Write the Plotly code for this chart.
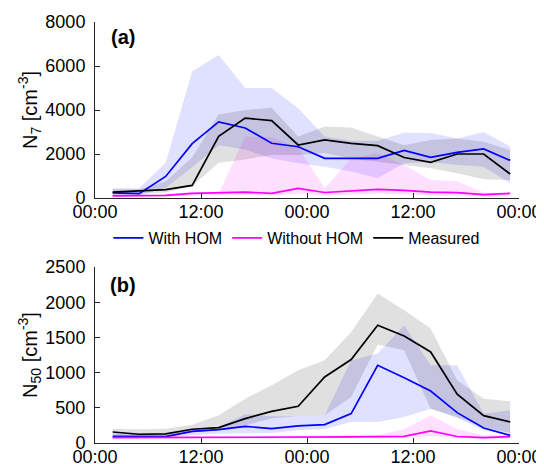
import pandas as pd
import plotly.graph_objects as go
from plotly.subplots import make_subplots

# ---- data ----
HOURS = [2, 5, 8, 11, 14, 17, 20, 23, 26, 29, 32, 35, 38, 41, 44, 47]
START = "2000-01-01"

# Panel (a): N7 [cm^-3]
with_hom_n7 = [230, 200, 980, 2470, 3460, 3180, 2490, 2330, 1800, 1800, 1800, 2160, 1850, 2075, 2230, 1710]
without_hom_n7 = [100, 100, 120, 210, 240, 270, 210, 440, 250, 333, 390, 350, 270, 240, 150, 210]
measured_n7 = [270, 330, 380, 570, 2800, 3630, 3515, 2410, 2640, 2485, 2380, 1840, 1620, 2000, 2000, 1090]

with_hom_n7_hi = [440, 440, 1600, 5750, 6500, 5000, 5000, 4080, 2800, 2600, 2600, 2970, 2950, 2700, 3000, 2350]
with_hom_n7_lo = [130, 130, 450, 1400, 2400, 2200, 1800, 1575, 1420, 1200, 900, 1575, 1650, 1500, 1420, 670]
without_hom_n7_hi = [150, 150, 150, 300, 200, 2800, 2750, 2300, 450, 1800, 2030, 1500, 820, 760, 250, 230]
without_hom_n7_lo = [60, 60, 60, 100, 120, 130, 100, 200, 100, 150, 200, 150, 100, 100, 60, 80]
measured_n7_hi = [400, 400, 750, 1850, 3800, 4000, 4100, 2800, 3250, 3200, 2800, 2400, 2640, 2710, 2560, 2180]
measured_n7_lo = [150, 200, 250, 550, 1600, 1750, 1950, 1950, 2040, 1800, 1650, 1500, 1350, 1120, 850, 820]

# Panel (b): N50 [cm^-3]
with_hom_n50 = [95, 90, 90, 166, 190, 237, 204, 242, 261, 417, 1104, 928, 739, 431, 213, 109]
without_hom_n50 = [76, 76, 76, 80, 80, 85, 85, 86, 86, 86, 90, 95, 171, 92, 75, 90]
measured_n50 = [156, 124, 130, 195, 218, 346, 450, 521, 938, 1185, 1672, 1520, 1293, 692, 389, 298]

with_hom_n50_hi = [133, 133, 133, 195, 228, 408, 379, 379, 393, 1175, 1270, 1672, 1104, 1104, 417, 464]
with_hom_n50_lo = [76, 76, 76, 109, 133, 142, 142, 180, 200, 298, 298, 370, 488, 355, 180, 110]
without_hom_n50_hi = [95, 95, 95, 100, 100, 105, 105, 105, 110, 110, 110, 200, 393, 200, 110, 110]
without_hom_n50_lo = [60, 60, 60, 60, 60, 65, 65, 65, 65, 65, 70, 70, 100, 70, 55, 65]
measured_n50_hi = [204, 195, 204, 261, 393, 630, 820, 1033, 1175, 1577, 2122, 1885, 1625, 890, 630, 592]
measured_n50_lo = [110, 100, 100, 150, 180, 250, 350, 379, 393, 654, 1400, 1317, 488, 370, 228, 140]

SERIES = ["With HOM", "Without HOM", "Measured"]
COLORS = ["#0000ff", "#ff00ff", "#000000"]
FILLS = ["rgba(0,0,255,0.12)", "rgba(255,0,255,0.12)", "rgba(0,0,0,0.12)"]

# ---- figure ----
t0 = pd.Timestamp(START)
times = [t0 + pd.Timedelta(hours=h) for h in HOURS]
band_x = times + times[::-1]

fig = make_subplots(rows=2, cols=1, vertical_spacing=0.0)

panels = [
    (1, [with_hom_n7, without_hom_n7, measured_n7],
     [(with_hom_n7_hi, with_hom_n7_lo), (without_hom_n7_hi, without_hom_n7_lo), (measured_n7_hi, measured_n7_lo)]),
    (2, [with_hom_n50, without_hom_n50, measured_n50],
     [(with_hom_n50_hi, with_hom_n50_lo), (without_hom_n50_hi, without_hom_n50_lo), (measured_n50_hi, measured_n50_lo)]),
]

for row, lines, bands in panels:
    for (hi, lo), fc in zip(bands, FILLS):
        fig.add_trace(go.Scatter(x=band_x, y=list(hi) + list(lo)[::-1], fill="toself",
                                 fillcolor=fc, line=dict(width=0), mode="lines",
                                 showlegend=False, hoverinfo="skip"), row=row, col=1)
    for name, y, c in zip(SERIES, lines, COLORS):
        fig.add_trace(go.Scatter(x=times, y=y, mode="lines", name=name,
                                 line=dict(color=c, width=1.7),
                                 showlegend=(row == 1)), row=row, col=1)

FONT = "Liberation Sans, Arial, Helvetica, sans-serif"
AX = "#262626"
xcommon = dict(type="date", range=[t0, t0 + pd.Timedelta(hours=48)], tick0=t0, dtick=12 * 3600 * 1000,
               tickformat="%H:%M", showline=True, linecolor=AX, linewidth=1, ticks="inside",
               ticklen=5, tickcolor=AX, showgrid=False, zeroline=False, ticklabelstandoff=-3,
               automargin=False, tickfont=dict(size=18, color="black", family=FONT))
ycommon = dict(showline=True, linecolor=AX, linewidth=1, ticks="inside", ticklen=5, tickcolor=AX,
               showgrid=False, zeroline=False, ticklabelstandoff=5, automargin=False,
               tickfont=dict(size=18, color="black", family=FONT))

# the page body has an 8px default margin, so the figure is sized to fit inside the window
W, H = 536, 456
L, T, R, B = 87, 14, 25, 21
ph = H - T - B
fig.update_layout(
    width=W, height=H,
    margin=dict(l=L, r=R, t=T, b=B),
    plot_bgcolor="white", paper_bgcolor="white",
    font=dict(family=FONT, color="black"),
    xaxis=dict(**xcommon, domain=[0, 1]),
    xaxis2=dict(**xcommon, domain=[0, 1]),
    yaxis=dict(**ycommon, range=[0, 8000], dtick=2000, domain=[1 - 176 / ph, 1],
               title=dict(text="N<sub>7</sub> [cm<sup>-3</sup>]", font=dict(size=20, family=FONT), standoff=2)),
    yaxis2=dict(**ycommon, range=[0, 2500], dtick=500, domain=[0, 176 / ph],
                title=dict(text="N<sub>50</sub> [cm<sup>-3</sup>]", font=dict(size=20, family=FONT), standoff=2)),
    legend=dict(orientation="h", x=0.475, xanchor="center", y=1 - (230 - T) / ph, yanchor="middle",
                font=dict(size=16, family=FONT), bgcolor="rgba(0,0,0,0)", itemwidth=30),
    showlegend=True,
)

fig.add_annotation(text="<b>(a)</b>", xref="x domain", yref="y domain", x=0.067, y=0.915,
                   xanchor="center", yanchor="middle", showarrow=False, font=dict(size=20, family=FONT))
fig.add_annotation(text="<b>(b)</b>", xref="x2 domain", yref="y2 domain", x=0.067, y=0.895,
                   xanchor="center", yanchor="middle", showarrow=False, font=dict(size=20, family=FONT))

fig.write_html("out.html")
